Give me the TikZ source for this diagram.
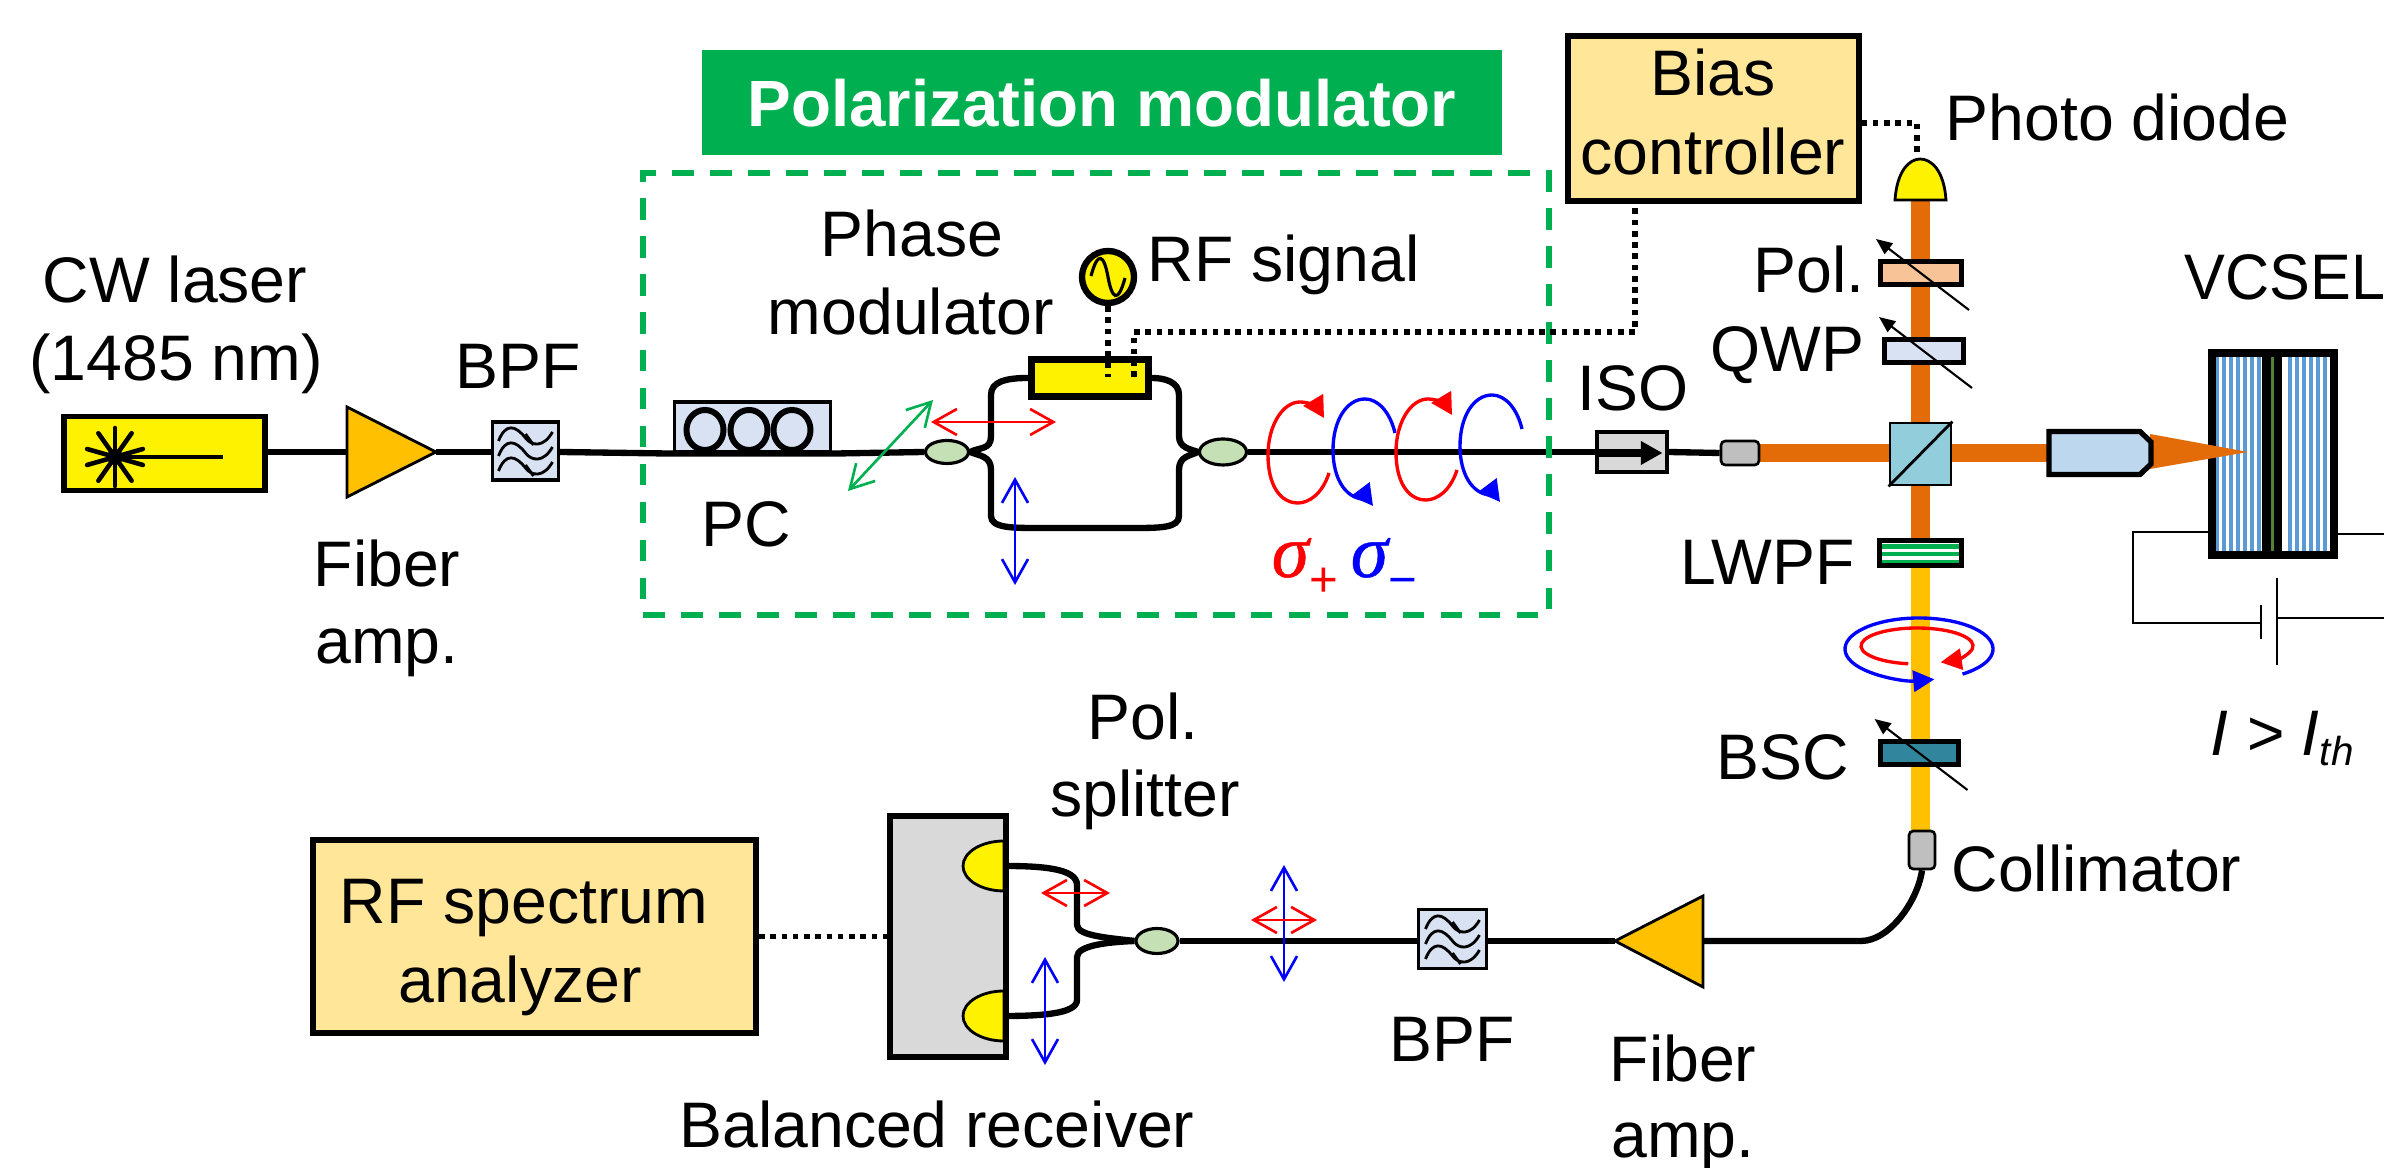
\documentclass[tikz,border=0pt]{standalone}
\usepackage{fontspec}
\setmainfont{Liberation Sans}
\newfontfamily\sigfont{Liberation Serif}[ItalicFeatures={FakeBold=0.6}]
\usetikzlibrary{arrows.meta, shapes.geometric, backgrounds}
\definecolor{pmgreen}{HTML}{00B050}
\definecolor{ctrlbox}{HTML}{FFE699}
\definecolor{ampfill}{HTML}{FFC000}
\definecolor{filtfill}{HTML}{D9E2F3}
\definecolor{cplfill}{HTML}{C5E0B4}
\definecolor{beamor}{HTML}{E36C09}
\definecolor{polfill}{HTML}{F8C396}
\definecolor{cubefill}{HTML}{92CDDC}
\definecolor{objfill}{HTML}{BDD7EE}
\definecolor{bscfill}{HTML}{31859C}
\definecolor{dbrblue}{HTML}{5B9BD5}
\definecolor{gain}{HTML}{548235}
\tikzset{
    lab/.style={anchor=base, inner sep=0pt, font=\fontsize{18.3}{22}\selectfont},
    box/.style 2 args={rectangle, draw, inner sep=0pt, minimum width=#1*0.01cm, minimum height=#2*0.01cm},
    fiber/.style={line width=1.8pt},
    beam/.style={line width=5.3pt, beamor},
    elec/.style={line width=1.5pt, dash pattern=on 1.6pt off 1.6pt},
    wire/.style={line width=0.7pt},
    plate/.style={line width=1.5pt},
    cpl/.style={ellipse, draw, fill=cplfill, line width=0.9pt, inner sep=0pt},
    pol/.style={line width=0.75pt, {Straight Barb[length=6.6pt,width=7.4pt]}-{Straight Barb[length=6.6pt,width=7.4pt]}},
    tune/.style={line width=0.6pt, -{Triangle[length=4.6pt,width=3.8pt]}},
    helix/.style={line width=0.95pt, -{Triangle[length=6pt,width=6.4pt]}},
    bpficon/.pic={
        \foreach \dy in {-15,0,15}
            \draw[line width=0.8pt] (-27,\dy+5) .. controls (-20,\dy-13) and (-10,\dy-11) .. (0,\dy+2) .. controls (6,\dy+10) and (18,\dy+12) .. (27,\dy-4);
        \draw[line width=0.8pt] (0,-17) -- (8,-6);
        \draw[line width=0.8pt] (0,14) -- (8,25);
    }
}
\begin{document}
\begin{tikzpicture}[x=0.01cm, y=-0.01cm]
    \useasboundingbox (0,0) rectangle (2384,1168);

    \node[box={800}{105}, draw=none, fill=pmgreen, text=white, font=\fontsize{18.6}{22}\selectfont\bfseries] (title) at (1102,103) {Polarization modulator};
    \node[box={906}{442}, draw=pmgreen, line width=1.7pt, dash pattern=on 6.2pt off 4.6pt] (pmframe) at (1096,394) {};

    \node[box={201}{74}, fill=yellow, line width=1.5pt] (las) at (164.5,453.5) {};
    \coordinate (star) at (115,457);
    \coordinate (starend) at (223,457);
    \foreach \a in {16,55,90,125,164,196,235,270,305,344}
        \draw[line width=1.3pt, line cap=round] (star) -- ++(\a:29);
    \draw[line width=1.3pt] (star) -- (starend);
    \fill (star) circle (8);

    \coordinate (a1l) at (347,452);
    \coordinate (a1r) at (436,452);
    \draw[fill=ampfill, line width=0.8pt] (347,407) -- (a1r) -- (347,497) -- cycle;

    \node[box={66}{58}, fill=filtfill, line width=0.9pt] (bpf1) at (525.5,451) {};
    \pic at (bpf1) {bpficon};

    \node[box={156}{50}, fill=filtfill, line width=0.9pt] (pc) at (752.5,427) {};
    \foreach \x in {705,749,792}
        \node[ellipse, draw, line width=1.7pt, inner sep=0pt, minimum width=0.37cm, minimum height=0.4cm] (loop\x) at (\x,430) {};

    \node[cpl, minimum width=0.43cm, minimum height=0.23cm] (cpla) at (947,452) {};
    \node[cpl, minimum width=0.47cm, minimum height=0.26cm] (cplb) at (1223,452) {};
    \node[box={117}{37}, fill=yellow, line width=2pt] (pm) at (1090,378) {};
    \node[circle, draw, fill=yellow, line width=1.8pt, inner sep=0pt, minimum size=0.52cm] (rf) at (1108,277) {};
    \draw[line width=0.9pt] (1091,276) .. controls (1098,250) and (1104,255) .. (1108,277) .. controls (1112,299) and (1118,304) .. (1125,278);
    \coordinate (rfpin) at (1108,377);
    \coordinate (dcpin) at (1134,377);
    \coordinate (dctop) at (1134,332);
    \coordinate (dcturn) at (1635,332);

    \foreach \n/\c/\a/\b in {ra/red/{931,422}/{1056,422}, rb/blue/{1015,477}/{1015,585}, rc/pmgreen/{848,491}/{933,400},
                             rd/red/{1041,893}/{1110,893}, re/blue/{1045,957}/{1045,1065}, rf2/blue/{1284,865}/{1284,982}, rg/red/{1251,920}/{1317,920}} {
        \coordinate (\n1) at (\a);
        \coordinate (\n2) at (\b);
        \draw[pol, \c] (\n1) -- (\n2);
    }

    \foreach \s in {0,1} {
        \draw[helix, red, shift={(\s*128,-\s*3)}] (1329,473) .. controls (1322,495) and (1308,503) .. (1298,503) .. controls (1280,503) and (1268,485) .. (1268,455) .. controls (1268,425) and (1283,402) .. (1300,402) .. controls (1310,402) and (1318,408) .. (1324,418);
        \draw[helix, blue, shift={(\s*127,-\s*4)}] (1395,433) .. controls (1390,412) and (1378,399) .. (1365,399) .. controls (1347,399) and (1333,420) .. (1333,450) .. controls (1333,478) and (1345,497) .. (1362,499) .. controls (1366,500) and (1370,502) .. (1373,506);
    }

    \node[box={70}{40}, fill=black!15, line width=0.9pt] (iso) at (1632,452) {};
    \draw[line width=2pt, -{Triangle[length=6.2pt,width=6.4pt]}] ([shift={(3,1)}]iso.west) -- ([shift={(-6,1)}]iso.east);
    \node[box={38}{24}, fill=black!25, line width=0.75pt, rounded corners=1.2pt] (col1) at (1740,453) {};
    \node[box={61}{62}, fill=cubefill, line width=0.8pt] (bs) at (1920.5,454) {};
    \draw[line width=0.8pt] (bs.south west) -- (bs.north east);

    \fill[white] (2209,350) rectangle (2337,558);
    \fill[dbrblue] (2216,350) rectangle (2219,558);
    \foreach \x in {2222,2229,...,2259,2288,2295,...,2325}
        \fill[dbrblue] (\x,350) rectangle (\x+4,558);
    \fill (2262,350) rectangle (2282,558);
    \fill[gain] (2271,357) rectangle (2274,551);
    \node[box={122}{202}, line width=2.3pt] (vc) at (2273,454) {};

    \coordinate (obj) at (2049,453);
    \draw[fill=beamor, draw=none] (2150,434) -- (2248,452) -- (2150,469) -- cycle;
    \draw[fill=objfill, line width=1.5pt] (obj |- 0,431.5) -- (2140,431.5) -- (2151,442) -- (2151,464) -- (2140,474.5) -- (obj |- 0,474.5) -- cycle;

    \coordinate (wl) at (2133,532);
    \coordinate (wb) at (2133,623);
    \coordinate (cs) at (2261,623);
    \coordinate (cs1) at (2261,605);
    \coordinate (cs2) at (2261,639);
    \coordinate (cl) at (2277,618);
    \coordinate (cl1) at (2277,578);
    \coordinate (cl2) at (2277,665);
    \coordinate (wr) at (2384,618);
    \coordinate (wt) at (2384,534);
    \draw[wire] (vc.west |- wl) -- (wl) -- (wb) -- (cs);
    \draw[wire] (cs1) -- (cs2);
    \draw[wire] (cl1) -- (cl2);
    \draw[wire] (cl) -- (wr);
    \draw[wire] (vc.east |- wt) -- (wt);

    \node[box={291}{165}, fill=ctrlbox, line width=1.7pt] (bias) at (1713,119) {};
    \coordinate (pdt) at (1920,200);
    \coordinate (pdtop) at (1917,157);
    \coordinate (biasturn) at (1917,123);
    \draw[fill=yellow, line width=0.8pt] (1895,200) .. controls (1897,170) and (1910,159) .. (1920,159) .. controls (1931,159) and (1944,170) .. (1946,200) -- cycle;

    \node[box={81}{23}, plate, fill=polfill] (pol) at (1921,273) {};
    \node[box={79}{23}, plate, fill=filtfill] (qwp) at (1924,351) {};
    \node[box={82}{25}, plate, fill=white] (lw) at (1920.5,553) {};
    \foreach \ya/\yb in {544/549,552/556,560/563}
        \fill[pmgreen] (1882,\ya) rectangle (1959,\yb);
    \node[box={78}{23}, plate, fill=bscfill] (bsc) at (1919.5,753) {};
    \foreach \n in {pol,qwp,bsc}
        \draw[tune] ([shift={(48,37)}]\n.center) -- ([shift={(-45,-34)}]\n.center);

    \draw[blue, line width=0.95pt, -{Triangle[length=6pt,width=6pt]}] (1919,649) ++(54:74 and 31) arc[start angle=54, end angle=-282, x radius=74, y radius=31];
    \draw[red, line width=0.95pt, -{Triangle[length=6pt,width=6pt]}] (1917,646) ++(99:56 and 18) arc[start angle=99, end angle=425, x radius=56, y radius=18];

    \node[box={26}{38}, fill=black!25, line width=0.75pt, rounded corners=1.2pt] (col2) at (1922,850) {};
    \coordinate (bendl) at (1861,941);
    \coordinate (a2r) at (1703,941);
    \coordinate (a2t) at (1615,941);
    \draw[fill=ampfill, line width=0.8pt] (a2r |- 0,896) -- (a2t) -- (a2r |- 0,987) -- cycle;

    \node[box={68}{59}, fill=filtfill, line width=0.9pt] (bpf2) at (1452.5,939) {};
    \pic at (bpf2) {bpficon};
    \node[cpl, minimum width=0.42cm, minimum height=0.25cm] (cplc) at (1157,941) {};

    \node[box={116}{241}, fill=black!15, line width=1.6pt] (rx) at (948,936.5) {};
    \coordinate (pd1) at (1004,866);
    \coordinate (pd2) at (1004,1016);
    \foreach \p in {pd1,pd2}
        \draw[fill=yellow, line width=0.8pt] ([shift={(0,-25)}]\p) arc[start angle=-90, end angle=-270, x radius=41, y radius=25] -- cycle;
    \node[box={443}{193}, fill=ctrlbox, line width=1.7pt] (rfsa) at (534.5,936.5) {};

    \begin{scope}[on background layer]
        \draw[fiber] (las.east |- a1l) -- (a1l);
        \draw[fiber] (a1r) -- (bpf1.west |- a1r);
        \draw[fiber] (bpf1.east |- a1r) -- (pc.south west) -- (pc.south east) -- (cpla.west);
        \draw[fiber] (cpla.east) .. controls (980,447) and (991,450) .. (991,436) -- (991,395) .. controls (991,382) and (1005,378) .. (pm.west);
        \draw[fiber] (cpla.east) .. controls (980,456) and (991,456) .. (991,470) -- (991,516) .. controls (991,528) and (1012,528) .. (1038,528) -- (1133,528) .. controls (1160,528) and (1179,528) .. (1179,516) -- (1179,470) .. controls (1179,456) and (1190,456) .. (cplb.west);
        \draw[fiber] (pm.east) .. controls (1165,378) and (1179,382) .. (1179,395) -- (1179,436) .. controls (1179,448) and (1190,449) .. (cplb.west);
        \draw[fiber] (cplb.east) -- (iso.west);
        \draw[fiber] (iso.east) -- (col1.west);
        \draw[fiber] (col2.south) .. controls (1918,900) and (1890,941) .. (bendl) -- (a2r);
        \draw[fiber] (a2t) -- (bpf2.east |- a2t);
        \draw[fiber] (bpf2.west |- a2t) -- (cplc.east);
        \draw[fiber] (pd1) .. controls (1040,866) and (1077,868) .. (1077,885) -- (1077,925) .. controls (1077,936) and (1110,938) .. (cplc.west);
        \draw[fiber] (pd2) .. controls (1040,1016) and (1077,1014) .. (1077,1000) -- (1077,957) .. controls (1077,945) and (1110,942) .. (cplc.west);
        \draw[beam] (col1.east) -- (bs.west |- col1.east);
        \draw[beam] (bs.east |- obj) -- (obj);
        \draw[beam] (bs.north) -- (pdt -| bs.north);
        \draw[beam] (bs.south) -- (lw.north);
        \draw[beam, ampfill] (lw.south) -- (bsc.center -| lw.south);
        \draw[beam, ampfill] (bsc.center -| lw.south) -- (col2.north -| lw.south);
    \end{scope}

    \draw[elec] (rf.south) -- (rfpin);
    \draw[elec] (dcpin) -- (dctop) -- (dcturn) -- (dcturn |- bias.south);
    \draw[elec] (bias.east |- biasturn) -- (biasturn) -- (pdtop);
    \draw[elec] (rfsa.east) -- (rx.west);

    \node[lab] (cwa) at (175,303) {CW laser};
    \node[lab] (cwb) at (176,381) {(1485 nm)};
    \node[lab] (bpfa) at (518,389) {BPF};
    \node[lab] (pclab) at (746,547) {PC};
    \node[lab] (fa1) at (387,587) {Fiber};
    \node[lab] (fa2) at (387,664) {amp.};
    \node[lab] (pma) at (912,257) {Phase};
    \node[lab] (pmb) at (911,335) {modulator};
    \node[lab, anchor=base west] (rflab) at (1147,282) {RF signal};
    \node[lab] (bia) at (1713,96) {Bias};
    \node[lab] (bib) at (1713,175) {controller};
    \node[lab, anchor=base west] (pdlab) at (1945,141) {Photo diode};
    \node[lab, anchor=base east] (pollab) at (1865,293) {Pol.};
    \node[lab, anchor=base east] (qwplab) at (1865,372) {QWP};
    \node[lab] (isolab) at (1633,411) {ISO};
    \node[lab, anchor=base west, xscale=0.95] (vclab) at (2184,300) {VCSEL};
    \node[lab, anchor=base east] (lwlab) at (1855,585) {LWPF};
    \node[lab] (bsclab) at (1783,780) {BSC};
    \node[lab, anchor=base west] (collab) at (1951,892) {Collimator};
    \node[lab, anchor=base west] (ith) at (2210,756) {\itshape I > I\raisebox{-2.6pt}{\fontsize{11.5}{12}\selectfont th}};
    \node[lab] (fb1) at (1683,1082) {Fiber};
    \node[lab] (fb2) at (1683,1158) {amp.};
    \node[lab] (bpfb) at (1452,1062) {BPF};
    \node[lab] (spa) at (1143,740) {Pol.};
    \node[lab] (spb) at (1145,817) {splitter};
    \node[lab] (brlab) at (937,1148) {Balanced receiver};
    \node[lab] (rfa) at (524,924) {RF spectrum};
    \node[lab] (rfb) at (520,1003) {analyzer};
    \node[lab, anchor=base west, text=red] (splus) at (1271,577) {\fontsize{21.5}{22}\sigfont\itshape σ\raisebox{-5.6pt}{\fontsize{14}{14}\selectfont\normalfont +}};
    \node[lab, anchor=base west, text=blue] (sminus) at (1350,577) {\fontsize{21.5}{22}\sigfont\itshape σ\raisebox{-5.6pt}{\fontsize{14}{14}\selectfont\normalfont −}};
\end{tikzpicture}
\end{document}
